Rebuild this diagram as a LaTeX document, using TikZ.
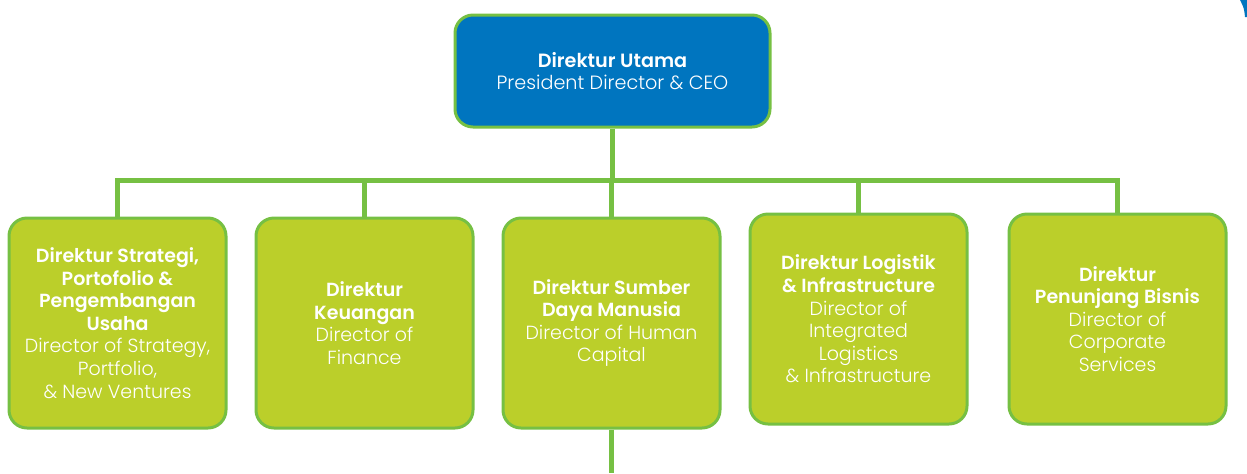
\documentclass[tikz,border=0pt]{standalone}
\usepackage{fontspec}
\setmainfont{Poppins}[UprightFont = * Light]
\usetikzlibrary{backgrounds}
\definecolor{ceoblue}{RGB}{0,117,191}
\definecolor{leafgreen}{RGB}{118,192,67}
\definecolor{lime}{RGB}{187,207,42}
\begin{document}
\begin{tikzpicture}[x=0.5pt,y=-0.5pt,
  link/.style = {draw = leafgreen, line width = 2.5pt},
  boss/.style = {draw = leafgreen, fill = ceoblue, line width = 1.5pt, rounded corners = 9pt,
                 minimum width = 157.5pt, minimum height = 56pt, text = white, align = center,
                 font = \fontsize{9.6}{11}\selectfont},
  dirbox/.style = {draw = leafgreen, fill = lime, line width = 1.5pt, rounded corners = 9pt,
                   minimum width = 108.5pt, minimum height = 105pt, text = white, align = center,
                   font = \fontsize{9.5}{11.3}\selectfont}]
\useasboundingbox (0,0) rectangle (1247,473);
% corner piece at the top right
\fill[ceoblue] (1240,0) -- (1247,0) -- (1247,17) -- (1245,17) .. controls (1244,8) .. (1240,0);
% top box
\node[boss] (ceo) at (612.5,71) {\textbf{Direktur Utama}\\President Director \& CEO};
% directors
\node[dirbox] (dir1) at (117.5,323) {\textbf{Direktur Strategi,}\\\textbf{Portofolio \&}\\\textbf{Pengembangan}\\\textbf{Usaha}\\Director of Strategy,\\Portfolio,\\\& New Ventures};
\node[dirbox] (dir2) at (364.5,323) {\textbf{Direktur}\\\textbf{Keuangan}\\Director of\\Finance};
\node[dirbox] (dir3) at (611.5,323) {\textbf{Direktur Sumber}\\\textbf{Daya Manusia}\\Director of Human\\Capital};
\node[dirbox] (dir4) at (858.5,319) {\textbf{Direktur Logistik}\\\textbf{\& Infrastructure}\\Director of\\Integrated\\Logistics\\\& Infrastructure};
\node[dirbox] (dir5) at (1117.5,319) {\textbf{Direktur}\\\textbf{Penunjang Bisnis}\\Director of\\Corporate\\Services};
% connectors, behind the boxes
\coordinate (bus) at (612,180);
\coordinate (tail) at (611.5,473);
\begin{scope}[on background layer]
\draw[link] (ceo.south) -- (ceo.south |- bus);
\draw[link] (dir1.north) |- (bus) -| (dir5.north);
\foreach \n in {2,3,4} \draw[link] (dir\n.north) -- (dir\n.north |- bus);
\draw[link] (dir3.south) -- (tail);
\end{scope}
\end{tikzpicture}
\end{document}
